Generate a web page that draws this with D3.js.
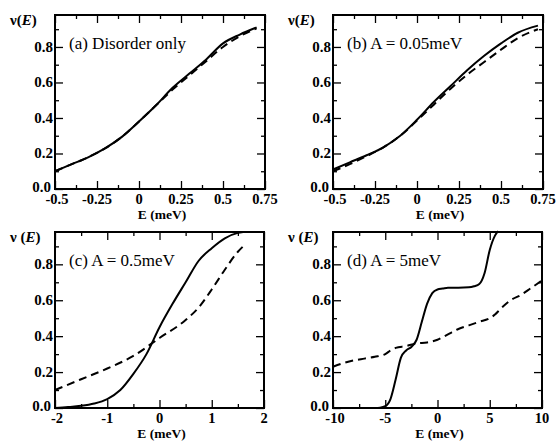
<!DOCTYPE html>
<html>
<head>
<meta charset="utf-8">
<script src="https://cdn.jsdelivr.net/npm/d3@7"></script>
<style>
  body { margin: 0; background: #fff; }
</style>
</head>
<body>
<svg id="chart" width="558" height="441" font-family="'Liberation Serif', 'Times New Roman', Times, serif"></svg>
<script>
// panel (a) disorder only
const eA = [-0.5, -0.4, -0.3, -0.2, -0.1, 0, 0.1, 0.2, 0.3, 0.4, 0.5, 0.6, 0.7];
const solidA = [0.10, 0.14, 0.18, 0.23, 0.295, 0.38, 0.47, 0.57, 0.65, 0.73, 0.82, 0.87, 0.91];
const dashA = [0.10, 0.14, 0.18, 0.23, 0.295, 0.38, 0.47, 0.56, 0.64, 0.72, 0.80, 0.86, 0.905];

// panel (b) A = 0.05meV
const eB = [-0.5, -0.4, -0.3, -0.2, -0.1, 0, 0.1, 0.2, 0.3, 0.4, 0.5, 0.6, 0.72];
const solidB = [0.11, 0.15, 0.19, 0.235, 0.30, 0.39, 0.49, 0.58, 0.67, 0.75, 0.82, 0.88, 0.92];
const dashB = [0.10, 0.14, 0.185, 0.235, 0.30, 0.385, 0.475, 0.565, 0.645, 0.715, 0.785, 0.85, 0.90];

// panel (c) A = 0.5meV
const eCsolid = [-2, -1.75, -1.5, -1.25, -1, -0.75, -0.5, -0.25, 0, 0.25, 0.5, 0.75, 1, 1.25, 1.5, 1.6];
const solidC = [0.0, 0.005, 0.012, 0.025, 0.05, 0.10, 0.19, 0.30, 0.45, 0.58, 0.70, 0.82, 0.89, 0.945, 0.975, 0.98];
const eCdash = [-2, -1.5, -1, -0.5, 0, 0.5, 0.75, 1, 1.25, 1.5, 1.6];
const dashC = [0.10, 0.16, 0.22, 0.29, 0.39, 0.49, 0.56, 0.66, 0.77, 0.87, 0.90];

// panel (d) A = 5meV
const eDsolid = [-6, -5.5, -5, -4.5, -4, -3.5, -3, -2.5, -2, -1.5, -1, -0.5, 0, 0.5, 1, 2, 3, 3.5, 4, 4.5, 5, 5.5, 5.8];
const solidD = [0.0, 0.002, 0.01, 0.05, 0.16, 0.28, 0.32, 0.34, 0.38, 0.48, 0.58, 0.64, 0.66, 0.665, 0.67, 0.67, 0.672, 0.678, 0.69, 0.75, 0.88, 0.96, 0.985];
const eDdash = [-10, -9, -8, -7, -6, -5, -4.5, -4, -3, -2, -1, 0, 1, 2, 3, 4, 5, 5.5, 6, 7, 8, 9, 10];
const dashD = [0.23, 0.25, 0.265, 0.275, 0.285, 0.30, 0.32, 0.335, 0.345, 0.36, 0.365, 0.38, 0.41, 0.44, 0.46, 0.48, 0.50, 0.52, 0.55, 0.60, 0.63, 0.67, 0.71];

const yTicks = [0, 0.2, 0.4, 0.6, 0.8];
const yMinor = [0.1, 0.3, 0.5, 0.7, 0.9];

const panels = [
  { left: 55, right: 265, top: 15, bottom: 189, xdom: [-0.5, 0.75],
    xt: [-0.5, -0.25, 0, 0.25, 0.5, 0.75], xm: [-0.375, -0.125, 0.125, 0.375, 0.625],
    xlab: ['-0.5', '-0.25', '0', '0.25', '0.5', '0.75'],
    label: '(a) Disorder only', ylab: ['ν(', ')'], lines: [[eA, solidA, false], [eA, dashA, true]] },
  { left: 333, right: 543, top: 15, bottom: 189, xdom: [-0.5, 0.75],
    xt: [-0.5, -0.25, 0, 0.25, 0.5, 0.75], xm: [-0.375, -0.125, 0.125, 0.375, 0.625],
    xlab: ['-0.5', '-0.25', '0', '0.25', '0.5', '0.75'],
    label: '(b) A = 0.05meV', ylab: ['ν(', ')'], lines: [[eB, solidB, false], [eB, dashB, true]] },
  { left: 55, right: 264, top: 232, bottom: 408, xdom: [-2, 2],
    xt: [-2, -1, 0, 1, 2], xm: [-1.5, -0.5, 0.5, 1.5],
    xlab: ['-2', '-1', '0', '1', '2'],
    label: '(c) A = 0.5meV', ylab: ['ν (', ')'], lines: [[eCsolid, solidC, false], [eCdash, dashC, true]] },
  { left: 333, right: 542, top: 232, bottom: 408, xdom: [-10, 10],
    xt: [-10, -5, 0, 5, 10], xm: [-7.5, -2.5, 2.5, 7.5],
    xlab: ['-10', '-5', '0', '5', '10'],
    label: '(d) A = 5meV', ylab: ['ν (', ')'], lines: [[eDsolid, solidD, false], [eDdash, dashD, true]] }
];

const svg = d3.select('#chart');

panels.forEach(p => {
  const x = d3.scaleLinear().domain(p.xdom).range([p.left, p.right]);
  const y = d3.scaleLinear().domain([0, 0.98]).range([p.bottom, p.top]);
  const g = svg.append('g');

  const line = d3.line().x(d => x(d[0])).y(d => y(d[1])).curve(d3.curveMonotoneX);
  p.lines.forEach(([xs, ys, dashed]) => {
    g.append('path')
      .datum(xs.map((v, i) => [v, ys[i]]))
      .attr('d', line)
      .attr('fill', 'none')
      .attr('stroke', '#000')
      .attr('stroke-width', 2)
      .attr('stroke-dasharray', dashed ? '8,5' : null);
  });

  // inward ticks on all four sides
  const tickAxis = (axis, tr) => g.append('g').attr('transform', tr).call(axis)
    .call(s => s.select('.domain').remove())
    .call(s => s.selectAll('line').attr('stroke', '#000').attr('stroke-width', 1.3));

  tickAxis(d3.axisBottom(x).tickValues(p.xt).tickSize(-8).tickFormat(''), `translate(0,${p.bottom})`);
  tickAxis(d3.axisBottom(x).tickValues(p.xm).tickSize(-4).tickFormat(''), `translate(0,${p.bottom})`);
  tickAxis(d3.axisTop(x).tickValues(p.xt).tickSize(-8).tickFormat(''), `translate(0,${p.top})`);
  tickAxis(d3.axisTop(x).tickValues(p.xm).tickSize(-4).tickFormat(''), `translate(0,${p.top})`);
  tickAxis(d3.axisLeft(y).tickValues(yTicks).tickSize(-8).tickFormat(''), `translate(${p.left},0)`);
  tickAxis(d3.axisLeft(y).tickValues(yMinor).tickSize(-4).tickFormat(''), `translate(${p.left},0)`);
  tickAxis(d3.axisRight(y).tickValues(yTicks).tickSize(-8).tickFormat(''), `translate(${p.right},0)`);
  tickAxis(d3.axisRight(y).tickValues(yMinor).tickSize(-4).tickFormat(''), `translate(${p.right},0)`);

  g.append('rect')
    .attr('x', p.left).attr('y', p.top)
    .attr('width', p.right - p.left).attr('height', p.bottom - p.top)
    .attr('fill', 'none').attr('stroke', '#000').attr('stroke-width', 2);

  // tick labels
  g.selectAll('text.xl').data(p.xt).enter().append('text')
    .attr('x', d => x(d) + (d === p.xdom[0] ? 2 : 0)).attr('y', p.bottom + 15)
    .attr('text-anchor', 'middle').attr('font-size', 14.5).attr('font-weight', 'bold')
    .text((d, i) => p.xlab[i]);
  g.selectAll('text.yl').data(yTicks).enter().append('text')
    .attr('x', d => p.left - (d === 0 ? 4 : 2)).attr('y', d => y(d) + 5 - (d === 0 ? 2 : 0))
    .attr('text-anchor', 'end').attr('font-size', 15).attr('font-weight', 'bold')
    .text(d => d.toFixed(1));

  g.append('text')
    .attr('x', (p.left + p.right) / 2 + 2).attr('y', p.bottom + 29.5)
    .attr('text-anchor', 'middle').attr('font-size', 13.5).attr('font-weight', 'bold')
    .text('E (meV)');

  const yl = g.append('text').attr('x', p.left - 45).attr('y', p.top + 10)
    .attr('font-size', 15).attr('font-weight', 'bold');
  yl.append('tspan').text(p.ylab[0]);
  yl.append('tspan').attr('font-style', 'italic').text('E');
  yl.append('tspan').text(p.ylab[1]);

  g.append('text')
    .attr('x', p.left + 14).attr('y', p.top + 34)
    .attr('font-size', 17)
    .text(p.label);
});
</script>
</body>
</html>
